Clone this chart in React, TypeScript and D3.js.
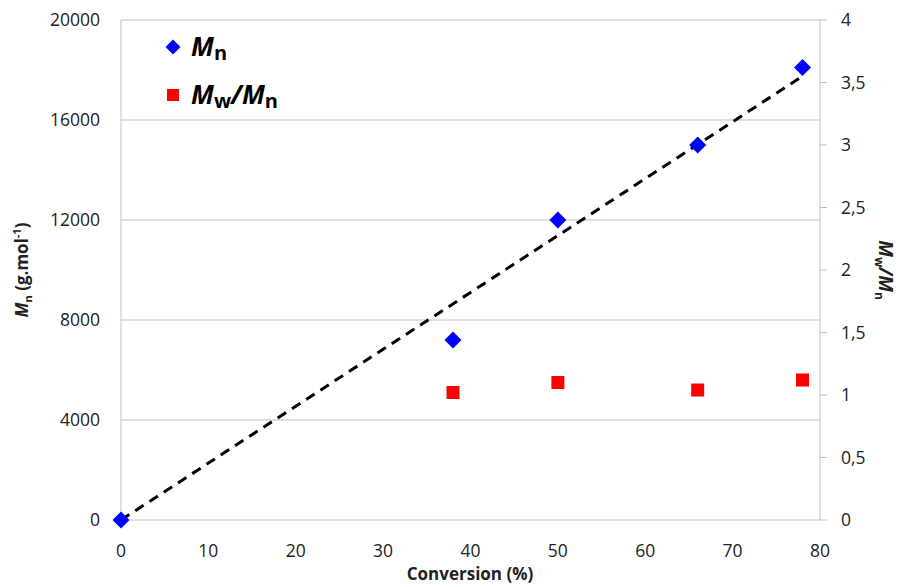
import React from "react";
import * as d3 from "d3";

const conversionMn = [0, 38, 50, 66, 78];
const mnValues = [0, 7200, 12000, 15000, 18100];
const conversionPdi = [38, 50, 66, 78];
const pdiValues = [1.02, 1.1, 1.04, 1.12];
const trendX = [0, 78];
const trendY = [0, 17750];
const xTicks = [0, 10, 20, 30, 40, 50, 60, 70, 80];
const yTicks = [0, 4000, 8000, 12000, 16000, 20000];
const y2Ticks = [0, 0.5, 1, 1.5, 2, 2.5, 3, 3.5, 4];

const W = 901, H = 587;
const left = 121, right = 820, top = 20, bottom = 520;
const font = "'Open Sans', sans-serif";

export default function App() {
  const x = d3.scaleLinear().domain([0, 80]).range([left, right]);
  const y = d3.scaleLinear().domain([0, 20000]).range([bottom, top]);
  const y2 = d3.scaleLinear().domain([0, 4]).range([bottom, top]);
  const trend = d3.line<number>().x((_, i) => x(trendX[i])).y((d) => y(d))(trendY) || "";
  const grid = "#bfbfbf";
  const diamond = (cx: number, cy: number, r: number) =>
    `M${cx},${cy - r}L${cx + r},${cy}L${cx},${cy + r}L${cx - r},${cy}Z`;
  const fmt = (v: number) => String(v).replace(".", ",");
  return (
    <svg width={W} height={H} style={{ position: "absolute", left: 0, top: 0, background: "#fff" }}>
      {yTicks.map((t) => (
        <line key={"g" + t} x1={left} x2={right} y1={y(t)} y2={y(t)} stroke={grid} strokeWidth={1} />
      ))}
      <line x1={left} x2={left} y1={top} y2={bottom} stroke={grid} />
      <line x1={right} x2={right} y1={top} y2={bottom} stroke={grid} />
      {y2Ticks.map((t) => (
        <line key={"t2" + t} x1={right} x2={right + 7} y1={y2(t)} y2={y2(t)} stroke={grid} />
      ))}
      {yTicks.map((t) => (
        <text key={"yl" + t} x={100} y={y(t)} dy="0.35em" textAnchor="end" fontFamily={font} fontSize={17.5} fill="#222">
          {t}
        </text>
      ))}
      {y2Ticks.map((t) => (
        <text key={"y2l" + t} x={841} y={y2(t)} dy="0.35em" textAnchor="start" fontFamily={font} fontSize={17.5} fill="#222">
          {fmt(t)}
        </text>
      ))}
      {xTicks.map((t) => (
        <text key={"xl" + t} x={x(t)} y={557} textAnchor="middle" fontFamily={font} fontSize={17.5} fill="#222">
          {t}
        </text>
      ))}
      <path d={trend} fill="none" stroke="#000" strokeWidth={3} strokeDasharray="10,7" />
      {conversionMn.map((c, i) => (
        <path key={"mn" + i} d={diamond(x(c), y(mnValues[i]), 8.5)} fill="#0000ff" />
      ))}
      {conversionPdi.map((c, i) => (
        <rect key={"pd" + i} x={x(c) - 6.5} y={y2(pdiValues[i]) - 6.5} width={13} height={13} fill="#ff0000" />
      ))}
      {/* legend */}
      <path d={diamond(173, 47, 7.5)} fill="#0000ff" />
      <text x={191} y={56} fontFamily={font} fontSize={26} fontWeight="bold" fill="#000">
        <tspan fontStyle="italic">M</tspan>
        <tspan fontSize={20} dy={4}>n</tspan>
      </text>
      <rect x={167} y={89} width={12} height={12} fill="#ff0000" />
      <text x={191} y={104} fontFamily={font} fontSize={26} fontWeight="bold" fill="#000">
        <tspan fontStyle="italic">M</tspan>
        <tspan fontSize={20} dy={4}>w</tspan>
        <tspan fontStyle="italic" dy={-4}>/M</tspan>
        <tspan fontSize={20} dy={4}>n</tspan>
      </text>
      {/* axis titles */}
      <text x={470} y={580} textAnchor="middle" fontFamily={font} fontSize={17} fontWeight="bold" fill="#222">
        Conversion (%)
      </text>
      <text transform="translate(28,270) rotate(-90)" textAnchor="middle" fontFamily={font} fontSize={17} fontWeight="bold" fill="#222">
        <tspan fontStyle="italic">M</tspan>
        <tspan fontSize={11} dy={4}>n</tspan>
        <tspan dy={-4}> (g.mol</tspan>
        <tspan fontSize={11} dy={-7}>-1</tspan>
        <tspan dy={7}>)</tspan>
      </text>
      <text transform="translate(879,270) rotate(90)" textAnchor="middle" fontFamily={font} fontSize={19} fontWeight="bold" fill="#222">
        <tspan fontStyle="italic">M</tspan>
        <tspan fontSize={12} dy={4}>w</tspan>
        <tspan fontStyle="italic" dy={-4}>/M</tspan>
        <tspan fontSize={12} dy={4}>n</tspan>
      </text>
    </svg>
  );
}
